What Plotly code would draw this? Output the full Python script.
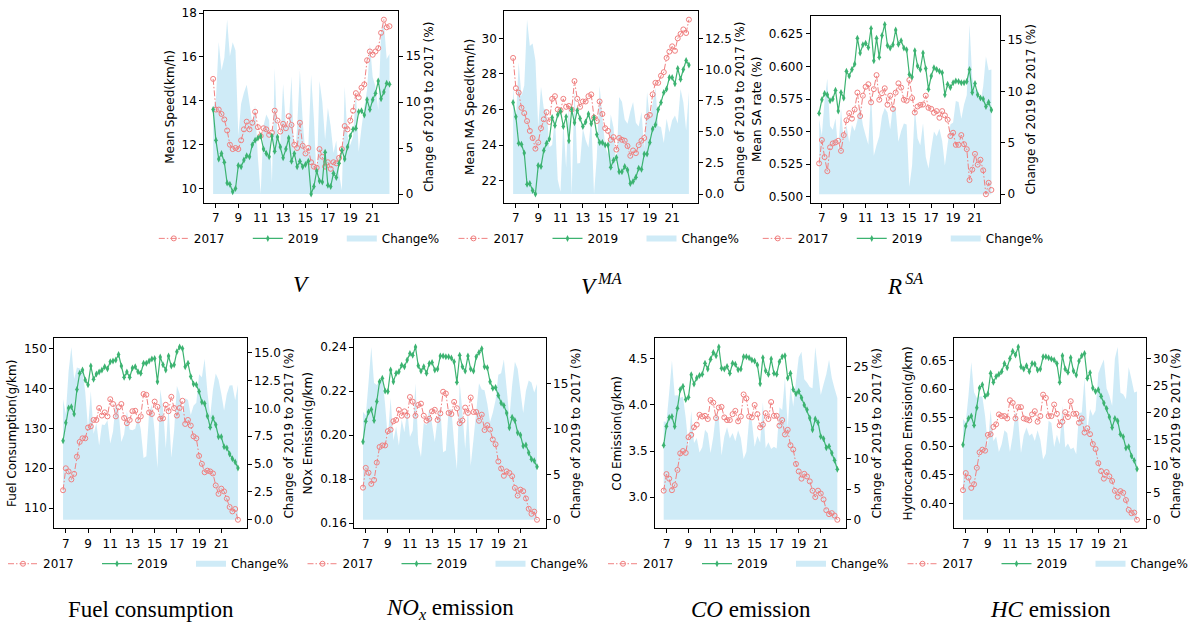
import plotly.graph_objects as go

W, H = 1203, 630

# Time of day (hours), 15-minute slots
hours = [6.75, 7.0, 7.25, 7.5, 7.75, 8.0, 8.25, 8.5, 8.75, 9.0,
         9.25, 9.5, 9.75, 10.0, 10.25, 10.5, 10.75, 11.0, 11.25, 11.5,
         11.75, 12.0, 12.25, 12.5, 12.75, 13.0, 13.25, 13.5, 13.75, 14.0,
         14.25, 14.5, 14.75, 15.0, 15.25, 15.5, 15.75, 16.0, 16.25, 16.5,
         16.75, 17.0, 17.25, 17.5, 17.75, 18.0, 18.25, 18.5, 18.75, 19.0,
         19.25, 19.5, 19.75, 20.0, 20.25, 20.5, 20.75, 21.0, 21.25, 21.5,
         21.75, 22.0, 22.25, 22.5]
hour_ticks = [7, 9, 11, 13, 15, 17, 19, 21]

speed_2017 = [15.0, 13.6, 13.6, 13.4, 13.15, 12.65, 12.0, 11.8, 11.85, 11.8,
              12.2, 12.7, 13.05, 12.7, 13.0, 13.5, 12.8, 12.4, 12.75, 12.7,
              12.45, 12.55, 13.55, 13.1, 12.6, 12.95, 12.75, 13.3, 12.9, 12.0,
              11.85, 13.0, 11.95, 11.6, 11.85, 11.2, 11.0, 10.95, 11.8, 11.45,
              11.0, 11.2, 10.9, 11.2, 11.15, 11.4, 11.8, 12.85, 12.7, 13.1,
              13.55, 14.35, 14.15, 14.6, 14.75, 15.85, 16.25, 16.1, 16.25, 16.4,
              17.1, 17.7, 17.35, 17.4]
speed_2019 = [13.6, 12.2, 11.35, 11.6, 11.2, 10.25, 10.2, 9.85, 10.0, 11.05,
              11.0, 11.3, 11.5, 11.45, 12.0, 12.2, 12.3, 12.4, 11.8, 11.6,
              11.45, 12.4, 11.7, 12.35, 11.9, 11.4, 11.8, 12.3, 11.25, 11.6,
              11.0, 11.25, 11.0, 11.1, 11.25, 9.75, 10.1, 10.8, 10.35, 10.3,
              11.65, 10.15, 10.1, 10.7, 10.5, 11.15, 11.75, 11.35, 11.9, 12.4,
              12.7, 12.75, 13.5, 13.55, 13.35, 14.05, 13.6, 14.05, 14.35, 14.9,
              14.1, 14.4, 14.8, 14.75]

ma_speed_2017 = [28.9, 27.2, 26.95, 26.1, 25.8, 25.35, 24.8, 24.4, 23.8, 24.15,
                 24.95, 25.45, 25.85, 25.3, 26.6, 26.75, 26.0, 25.95, 26.6, 26.15,
                 26.2, 26.0, 27.6, 26.6, 26.15, 26.45, 26.45, 26.75, 26.85, 25.55,
                 25.35, 26.45, 25.75, 24.95, 24.8, 24.3, 24.45, 23.75, 24.4, 24.3,
                 24.25, 23.95, 23.4, 23.7, 23.55, 24.0, 24.25, 24.4, 25.6, 25.7,
                 26.85, 27.5, 27.5, 27.9, 28.1, 28.9, 29.25, 29.55, 29.3, 30.0,
                 30.25, 30.5, 30.3, 31.05]
ma_speed_2019 = [26.4, 25.6, 24.1, 24.05, 23.55, 21.8, 21.85, 21.45, 21.25, 22.85,
                 22.8, 23.7, 24.1, 24.35, 25.55, 25.1, 25.7, 25.9, 25.05, 25.6,
                 24.25, 26.0, 25.25, 25.95, 25.5, 25.05, 25.3, 25.75, 25.2, 25.55,
                 24.6, 24.15, 24.15, 24.0, 24.0, 22.75, 23.15, 23.3, 22.5, 22.5,
                 22.8, 22.6, 21.85, 21.95, 22.2, 22.7, 22.65, 23.5, 23.5, 24.15,
                 24.9, 25.15, 26.0, 26.4, 26.95, 27.15, 27.8, 27.8, 27.45, 28.3,
                 27.7, 28.25, 28.75, 28.5]

sa_rate_2017 = [0.5257, 0.5436, 0.5305, 0.5197, 0.538, 0.541, 0.5418, 0.543, 0.5353, 0.5474,
                0.5587, 0.5642, 0.56, 0.567, 0.58, 0.562, 0.5776, 0.5844, 0.5864, 0.5725,
                0.5826, 0.5934, 0.5745, 0.5795, 0.5833, 0.5707, 0.5776, 0.5675, 0.58, 0.5871,
                0.5838, 0.5745, 0.5738, 0.5896, 0.5758, 0.5647, 0.5693, 0.5705, 0.5708, 0.5776,
                0.5683, 0.5675, 0.5645, 0.5658, 0.5607, 0.5658, 0.5625, 0.5592, 0.5467, 0.5492,
                0.5399, 0.5399, 0.5474, 0.5404, 0.5366, 0.5129, 0.5209, 0.533, 0.5247, 0.5285,
                0.5204, 0.502, 0.5108, 0.5053]
sa_rate_2019 = [0.5642, 0.5745, 0.5793, 0.5783, 0.5738, 0.575, 0.5818, 0.5658, 0.58, 0.5758,
                0.5964, 0.5927, 0.5977, 0.6019, 0.6217, 0.6103, 0.6166, 0.6179, 0.6146, 0.6292,
                0.6045, 0.6217, 0.607, 0.6237, 0.6323, 0.6161, 0.6141, 0.6166, 0.628, 0.6171,
                0.6197, 0.6141, 0.6128, 0.5939, 0.5919, 0.6121, 0.6003, 0.5977, 0.6103, 0.5985,
                0.5826, 0.5927, 0.599, 0.5977, 0.5964, 0.5952, 0.5783, 0.5864, 0.5838, 0.5876,
                0.5889, 0.5884, 0.5876, 0.5876, 0.5884, 0.5977, 0.580, 0.5869, 0.5783, 0.5758,
                0.575, 0.5693, 0.5725, 0.5667]

fuel_2017 = [114.5, 120.0, 119.2, 117.2, 118.6, 122.9, 126.6, 127.5, 127.5, 130.2,
             130.5, 132.1, 132.1, 135.1, 133.2, 134.0, 133.0, 137.3, 136.1, 133.0,
             135.3, 136.1, 132.6, 131.3, 132.1, 134.3, 134.4, 132.0, 133.0, 138.6,
             138.4, 134.0, 133.6, 136.7, 135.4, 132.4, 132.5, 135.9, 134.3, 137.9,
             135.1, 133.2, 135.1, 136.9, 131.1, 132.1, 130.7, 128.0, 127.5, 123.1,
             121.1, 119.0, 119.4, 119.2, 118.7, 115.7, 113.6, 114.9, 114.2, 112.4,
             110.3, 109.2, 109.8, 107.1]
fuel_2019 = [126.9, 131.4, 135.1, 135.4, 133.6, 139.7, 143.8, 144.6, 142.1, 140.9,
             145.6, 142.3, 143.6, 144.1, 144.6, 145.4, 144.9, 146.7, 146.9, 147.1,
             148.5, 145.6, 142.8, 144.1, 142.8, 145.1, 145.4, 144.2, 143.8, 146.3,
             146.3, 146.9, 147.4, 147.5, 141.7, 147.9, 145.9, 144.6, 148.1, 145.6,
             145.9, 149.2, 150.4, 150.0, 145.4, 146.3, 143.0, 141.1, 140.9, 139.2,
             136.6, 136.2, 133.1, 130.3, 132.6, 130.9, 127.9, 127.9, 125.4, 125.1,
             123.6, 122.4, 121.6, 120.1]

nox_2017 = [0.1761, 0.1851, 0.1829, 0.1778, 0.1796, 0.1875, 0.1946, 0.1953, 0.1953, 0.2018,
            0.2025, 0.2063, 0.2069, 0.2115, 0.2088, 0.2108, 0.2088, 0.2173, 0.2152, 0.2088,
            0.2137, 0.2143, 0.2088, 0.2066, 0.2074, 0.2108, 0.2115, 0.2069, 0.2099, 0.2197,
            0.2189, 0.2101, 0.2096, 0.2151, 0.2122, 0.2054, 0.2066, 0.2125, 0.2101, 0.2171,
            0.2105, 0.2105, 0.2065, 0.2093, 0.2023, 0.2045, 0.2025, 0.1980, 0.1958, 0.1880,
            0.1848, 0.1815, 0.1835, 0.1828, 0.1813, 0.1760, 0.1725, 0.1752, 0.1745, 0.1712,
            0.1665, 0.1642, 0.1652, 0.1615]
nox_2019 = [0.1970, 0.2063, 0.2105, 0.2116, 0.2066, 0.2153, 0.2243, 0.2258, 0.2201, 0.2198,
            0.2296, 0.2243, 0.2281, 0.2288, 0.2318, 0.2311, 0.2341, 0.2371, 0.2363, 0.2401,
            0.2315, 0.2291, 0.2311, 0.2281, 0.2326, 0.2330, 0.2296, 0.2300, 0.2360, 0.2360,
            0.2356, 0.2356, 0.2351, 0.2333, 0.2240, 0.2363, 0.2311, 0.2291, 0.2360, 0.2300,
            0.2291, 0.2356, 0.2375, 0.2393, 0.2311, 0.2306, 0.2243, 0.2213, 0.2216, 0.2180,
            0.2146, 0.2135, 0.2101, 0.2033, 0.2081, 0.2066, 0.2011, 0.2000, 0.1950, 0.1955,
            0.1920, 0.1890, 0.1883, 0.1856]

co_2017 = [3.07, 3.25, 3.20, 3.075, 3.13, 3.295, 3.475, 3.50, 3.48, 3.65,
           3.675, 3.757, 3.786, 3.893, 3.875, 3.882, 3.847, 4.053, 4.025, 3.858,
           3.972, 3.979, 3.865, 3.836, 3.836, 3.90, 3.936, 3.822, 3.875, 4.114,
           4.071, 3.875, 3.865, 4.00, 3.90, 3.757, 3.786, 3.911, 3.847, 4.032,
           3.882, 3.882, 3.776, 3.836, 3.68, 3.73, 3.563, 3.517, 3.36, 3.279,
           3.20, 3.253, 3.224, 3.171, 3.07, 3.00, 3.07, 3.039, 2.975, 2.858,
           2.815, 2.826, 2.80, 2.754]
co_2019 = [3.563, 3.77, 3.865, 3.875, 3.765, 3.965, 4.167, 4.203, 4.06, 4.085,
           4.327, 4.228, 4.292, 4.32, 4.334, 4.452, 4.391, 4.495, 4.57, 4.534,
           4.63, 4.399, 4.391, 4.416, 4.345, 4.452, 4.441, 4.381, 4.391, 4.523,
           4.523, 4.513, 4.488, 4.477, 4.434, 4.231, 4.513, 4.37, 4.334, 4.498,
           4.345, 4.334, 4.47, 4.523, 4.534, 4.292, 4.345, 4.167, 4.121, 4.149,
           4.078, 4.0, 3.947, 3.858, 3.73, 3.847, 3.811, 3.658, 3.633, 3.537,
           3.551, 3.48, 3.40, 3.302]

hc_2017 = [0.4231, 0.4531, 0.445, 0.4271, 0.4335, 0.4623, 0.4894, 0.494, 0.4923, 0.52,
           0.5212, 0.5339, 0.5385, 0.5558, 0.5529, 0.5529, 0.5488, 0.5806, 0.576, 0.5488,
           0.5685, 0.5685, 0.5488, 0.5471, 0.5454, 0.5558, 0.5615, 0.543, 0.5529, 0.5904,
           0.5846, 0.5529, 0.5529, 0.5731, 0.5569, 0.5367, 0.543, 0.5598, 0.5512, 0.5789,
           0.5569, 0.5569, 0.5413, 0.5488, 0.524, 0.5315, 0.5212, 0.504, 0.4952, 0.4704,
           0.4565, 0.4433, 0.4548, 0.4473, 0.4392, 0.4219, 0.4115, 0.4214, 0.4185, 0.4058,
           0.3885, 0.3827, 0.3838, 0.3712]
hc_2019 = [0.5027, 0.5356, 0.5488, 0.5529, 0.5367, 0.5673, 0.6019, 0.6077, 0.5875, 0.5915,
           0.6279, 0.6123, 0.6221, 0.6262, 0.6308, 0.6452, 0.6377, 0.6539, 0.6666, 0.6597,
           0.6741, 0.6394, 0.6354, 0.6412, 0.6308, 0.6452, 0.6441, 0.6337, 0.6354, 0.6568,
           0.6568, 0.655, 0.6527, 0.651, 0.6452, 0.6123, 0.6585, 0.6354, 0.6296, 0.655,
           0.6319, 0.625, 0.6492, 0.6585, 0.6625, 0.6192, 0.629, 0.6019, 0.5961, 0.599,
           0.5875, 0.5759, 0.5661, 0.5511, 0.5327, 0.5488, 0.5442, 0.5212, 0.5165, 0.497,
           0.499, 0.483, 0.475, 0.460]

RED = "#F08080"
GREEN = "#3CB371"
FILL = "rgba(135,206,235,0.40)"
SANS = "DejaVu Sans"
SERIF = "Liberation Serif"

# Each panel: data, labels, pixel box (left, top, right, bottom) and tick settings
panels = [
    dict(y17=speed_2017, y19=speed_2019, ylabel="Mean Speed(km/h)",
         title="<i>V</i>", box=(204.3, 6, 398.3, 200),
         lt=(10, 2, ""), rt=(0, 5, "")),
    dict(y17=ma_speed_2017, y19=ma_speed_2019, ylabel="Mean MA Speed(km/h)",
         title="<i>V</i><sup>\u2009<i>MA</i></sup>", box=(504.3, 6, 697.7, 200),
         lt=(22, 2, ""), rt=(0, 2.5, ".1f")),
    dict(y17=sa_rate_2017, y19=sa_rate_2019, ylabel="Mean SA rate (%)",
         title="<i>R</i><sup>\u2009<i>SA</i></sup>", box=(810.5, 11, 1000, 200),
         lt=(0.5, 0.025, ".3f"), rt=(0, 5, "")),
    dict(y17=fuel_2017, y19=fuel_2019, ylabel="Fuel Consumption(g/km)",
         title="Fuel consumption", box=(54.3, 337, 246.7, 529.3),
         lt=(110, 10, ""), rt=(0, 2.5, ".1f")),
    dict(y17=nox_2017, y19=nox_2019, ylabel="NOx Emission(g/km)",
         title="<i>NO</i><sub><i>x</i></sub> emission", box=(354.3, 337, 545.7, 529.3),
         lt=(0.16, 0.02, ".2f"), rt=(0, 5, "")),
    dict(y17=co_2017, y19=co_2019, ylabel="CO Emission(g/km)",
         title="<i>CO</i> emission", box=(655, 337, 846, 529.3),
         lt=(3.0, 0.5, ".1f"), rt=(0, 5, "")),
    dict(y17=hc_2017, y19=hc_2019, ylabel="Hydrocarbon Emission(g/km)",
         title="<i>HC</i> emission", box=(954.3, 337, 1145.7, 529.3),
         lt=(0.40, 0.05, ".2f"), rt=(0, 5, "")),
]

x_span = hours[-1] - hours[0]
x_range = [hours[0] - 0.05 * x_span, hours[-1] + 0.05 * x_span]

tick_font = dict(family=SANS, size=12, color="black")
axis_line = dict(showline=True, linecolor="black", linewidth=1, ticks="outside",
                 ticklen=4, tickwidth=1, tickcolor="black", showgrid=False,
                 zeroline=False, tickfont=tick_font)

fig = go.Figure()
layout = dict(width=W, height=H, margin=dict(l=0, r=0, t=0, b=0),
              paper_bgcolor="white", plot_bgcolor="white", annotations=[])


def ax_name(prefix, n):
    return prefix if n == 1 else f"{prefix}{n}"


for k, p in enumerate(panels, start=1):
    left, top, right, bottom = p["box"]
    xdom = [left / W, right / W]
    ydom = [1 - bottom / H, 1 - top / H]
    xid = ax_name("x", k)
    y_change = ax_name("y", 2 * k - 1)   # right axis, percentage change
    y_value = ax_name("y", 2 * k)        # left axis, yearly values
    leg = ax_name("legend", k)

    y17, y19 = p["y17"], p["y19"]
    pct_change = [abs(b - a) / a * 100 for a, b in zip(y17, y19)]

    fig.add_trace(go.Scatter(
        x=hours, y=pct_change, name="Change%", mode="none", fill="tozeroy",
        fillcolor=FILL, xaxis=xid, yaxis=y_change, legend=leg, legendrank=3,
        legendwidth=62))
    fig.add_trace(go.Scatter(
        x=hours, y=y17, name="2017", mode="lines+markers",
        line=dict(color=RED, width=1, dash="6px,2px,1.5px,2px"),
        marker=dict(symbol="circle-open", size=5, color=RED, line=dict(width=1, color=RED)),
        xaxis=xid, yaxis=y_value, legend=leg, legendrank=1, legendwidth=49))
    fig.add_trace(go.Scatter(
        x=hours, y=y19, name="2019", mode="lines+markers",
        line=dict(color=GREEN, width=1.2),
        marker=dict(symbol="diamond-tall", size=5, color=GREEN),
        xaxis=xid, yaxis=y_value, legend=leg, legendrank=2, legendwidth=49))

    vals = y17 + y19
    lo, hi = min(vals), max(vals)
    pad = 0.05 * (hi - lo)
    cmax = max(pct_change)

    layout[ax_name("xaxis", k)] = dict(
        domain=xdom, anchor=y_change, range=x_range, tickmode="array",
        tickvals=hour_ticks, mirror=True, **axis_line)
    layout[ax_name("yaxis", 2 * k - 1)] = dict(
        domain=ydom, anchor=xid, side="right", range=[-0.05 * cmax, 1.05 * cmax],
        tickmode="linear", tick0=p["rt"][0], dtick=p["rt"][1], tickformat=p["rt"][2],
        title=dict(text="Change of 2019 to 2017 (%)", font=tick_font, standoff=4),
        **axis_line)
    layout[ax_name("yaxis", 2 * k)] = dict(
        overlaying=y_change, anchor=xid, side="left", range=[lo - pad, hi + pad],
        tickmode="linear", tick0=p["lt"][0], dtick=p["lt"][1], tickformat=p["lt"][2],
        title=dict(text=p["ylabel"], font=tick_font, standoff=4),
        **axis_line)

    cx = (xdom[0] + xdom[1]) / 2
    top_row = top < 100
    legend_y = 1 - (236 if top_row else 565) / H
    title_y = 1 - (283 if top_row else 611) / H
    layout[leg] = dict(
        orientation="h", x=cx, xanchor="center", y=legend_y, yanchor="middle",
        font=dict(family=SANS, size=12, color="black"), bgcolor="rgba(0,0,0,0)",
        itemwidth=30, traceorder="normal")
    layout["annotations"].append(dict(
        text=p["title"], x=cx, y=title_y, xref="paper", yref="paper",
        xanchor="center", yanchor="middle", showarrow=False,
        font=dict(family=SERIF, size=23, color="black")))

fig.update_layout(**layout)
fig.write_html("out.html")
